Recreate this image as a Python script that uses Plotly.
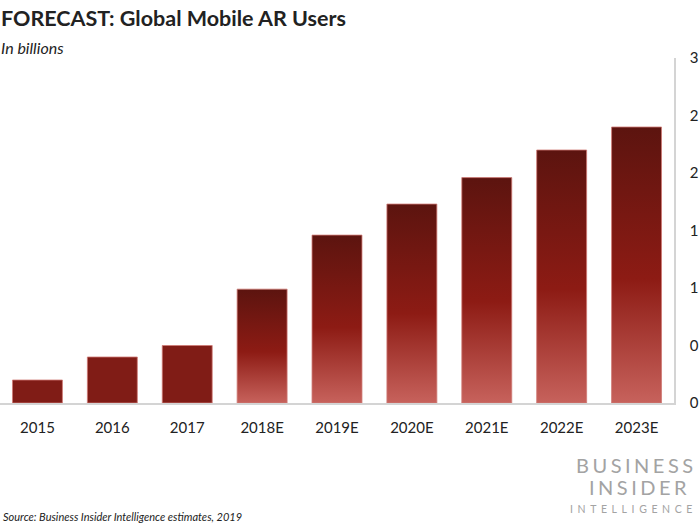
import plotly.graph_objects as go

categories = ["2015", "2016", "2017", "2018E", "2019E", "2020E", "2021E", "2022E", "2023E"]
users = [0.20, 0.40, 0.50, 0.99, 1.46, 1.73, 1.96, 2.20, 2.40]
is_estimate = [False, False, False, True, True, True, True, True, True]
y_tickvals = [0, 0.5, 1, 1.5, 2, 2.5, 3]
y_ticktext = ["0", "0", "1", "1", "2", "2", "3"]

BAR_W = 0.667
SOLID = "#801c16"
EDGE = "#cf7a75"
GRAD = [[0.0, "#c7625c"], [0.45, "#8d1b14"], [1.0, "#5c140f"]]

fig = go.Figure()

idx = list(range(len(categories)))
act_x = [i for i in idx if not is_estimate[i]]
act_y = [users[i] for i in idx if not is_estimate[i]]
fig.add_trace(go.Bar(x=act_x, y=act_y, width=BAR_W, marker=dict(color=SOLID, line=dict(color=EDGE, width=0.8)),
                     showlegend=False, hoverinfo="skip"))

for i in idx:
    if not is_estimate[i]:
        continue
    v = users[i]
    x0, x1 = i - BAR_W / 2, i + BAR_W / 2
    fig.add_trace(go.Scatter(
        x=[x0, x1, x1, x0, x0], y=[0, 0, v, v, 0],
        mode="lines", fill="toself",
        line=dict(color=EDGE, width=0.8),
        fillgradient=dict(type="vertical", colorscale=GRAD),
        showlegend=False, hoverinfo="skip"))

fig.update_layout(
    width=700, height=525,
    margin=dict(l=0, r=26, t=57.5, b=121.5),
    paper_bgcolor="white", plot_bgcolor="white",
    font=dict(family="Lato, Open Sans, sans-serif", color="#222222"),
    xaxis=dict(range=[-0.5, 8.5], tickmode="array", tickvals=idx, ticktext=categories,
               showgrid=False, zeroline=False, showline=True, linecolor="#d4d4d4", linewidth=1.5,
               ticks="", tickfont=dict(size=15, color="#222222"), ticklabelstandoff=10, fixedrange=True),
    yaxis=dict(range=[0, 3], side="right", tickmode="array", tickvals=y_tickvals, ticktext=y_ticktext,
               showgrid=False, zeroline=False, showline=True, linecolor="#d4d4d4", linewidth=1.5,
               ticks="", tickfont=dict(size=15, color="#222222"), ticklabelstandoff=11, fixedrange=True),
)


def add_text(text, x, y, size, color="#222222", xanchor="left"):
    fig.add_annotation(text=text, x=x / 674, y=1 - (y - 57.5) / 346, xref="paper", yref="paper",
                       xanchor=xanchor, yanchor="middle", showarrow=False,
                       font=dict(size=size, color=color, family="Lato, Open Sans, sans-serif"))


add_text("<b>FORECAST: Global Mobile AR Users</b>", -1, 17, 21.5)
add_text("<i>In billions</i>", -1, 47, 16)
add_text("<i>Source: Business Insider Intelligence estimates, 2019</i>", 1, 517, 11)
add_text("<span style='letter-spacing:3.5px'>BUSINESS</span>", 699, 466, 20, color="#a3a3a3", xanchor="right")
add_text("<span style='letter-spacing:3.5px'>INSIDER</span>", 692, 488, 20, color="#a3a3a3", xanchor="right")
add_text("<span style='letter-spacing:4.6px'>INTELLIGENCE</span>", 699, 510, 10.5, color="#a3a3a3", xanchor="right")

fig.write_html("out.html", config={"displayModeBar": False},
               post_script="document.body.style.margin='0';document.body.style.overflow='hidden';")
